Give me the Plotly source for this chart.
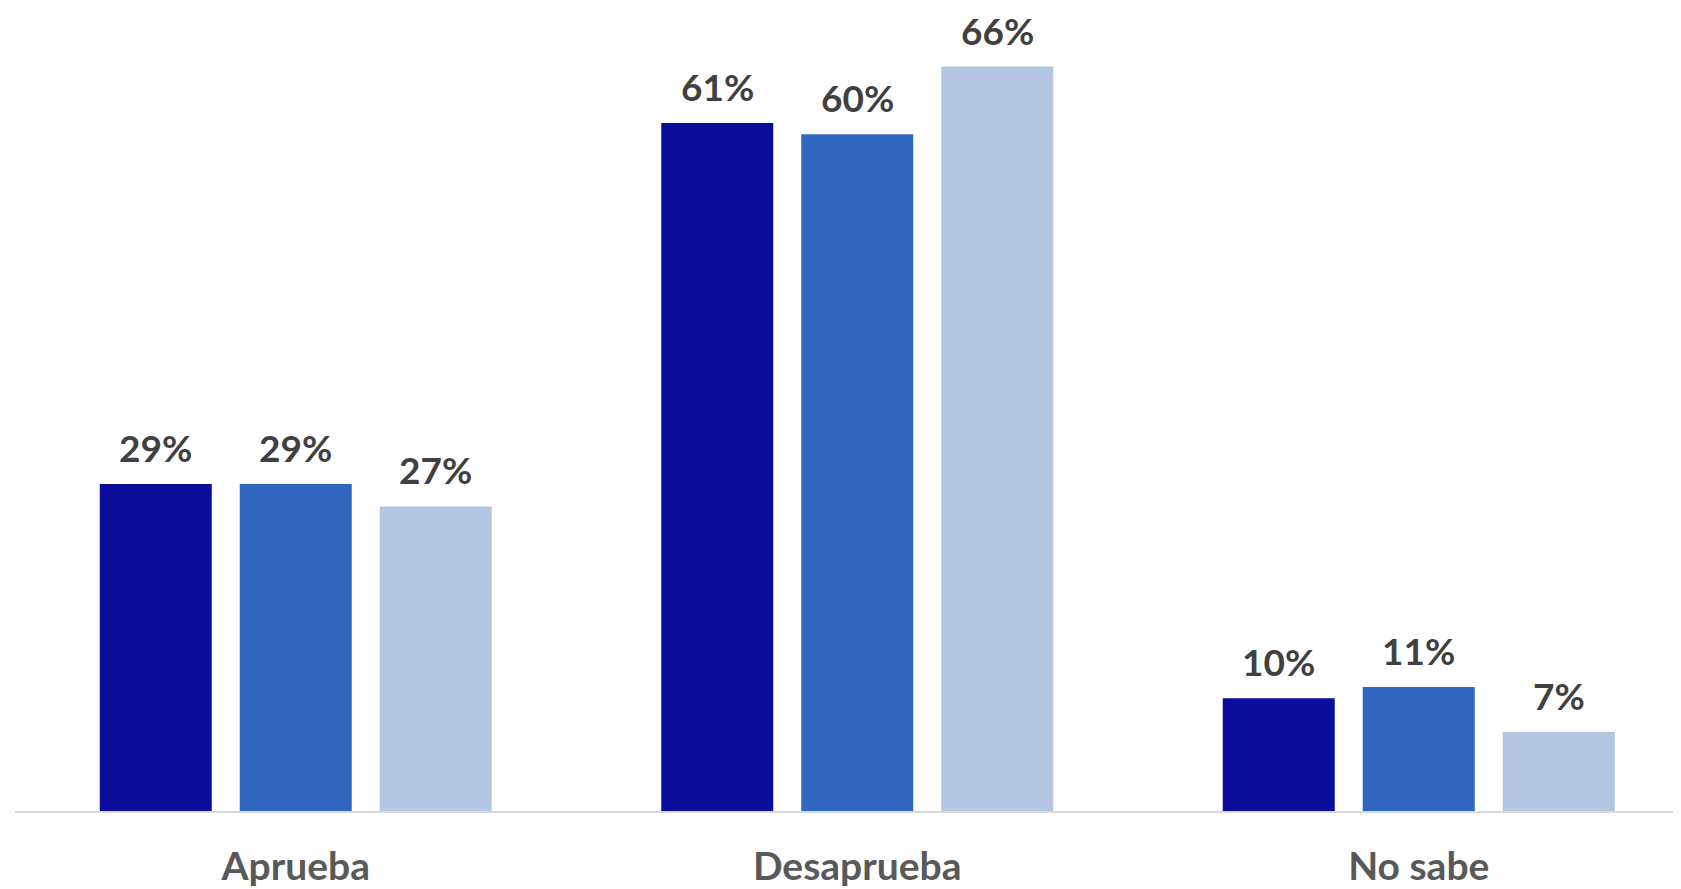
import plotly.graph_objects as go

categories = ["Aprueba", "Desaprueba", "No sabe"]
series_names = ["Serie 1", "Serie 2", "Serie 3"]
series_values = [
    [29, 61, 10],
    [29, 60, 11],
    [27, 66, 7],
]
series_colors = ["#0A0C9B", "#3067C0", "#B4C6E4"]

W, H = 1673, 881
ml, mr, mt, mb = 7, 0, 12, 78
bargap = 0.252
bargroupgap = 0.2

fig = go.Figure()
for name, vals, col in zip(series_names, series_values, series_colors):
    fig.add_trace(go.Bar(
        x=list(range(len(categories))), y=vals, name=name,
        marker=dict(color=col, line=dict(width=0)),
        hoverinfo="skip",
    ))

n = len(series_values)
slot = (1 - bargap) / n
for i, vals in enumerate(series_values):
    off = (i - (n - 1) / 2) * slot
    for j, v in enumerate(vals):
        fig.add_annotation(
            x=j + off, y=v, xref="x", yref="y",
            text=f"{v}%", showarrow=False,
            yanchor="bottom", yshift=12,
            font=dict(family="Lato", size=37, color="#404040", weight="bold"),
        )

fig.update_layout(
    width=W, height=H,
    margin=dict(l=ml, r=mr, t=mt, b=mb),
    paper_bgcolor="white", plot_bgcolor="white",
    barmode="group", bargap=bargap, bargroupgap=bargroupgap,
    showlegend=False,
    xaxis=dict(
        range=[-0.5, -0.5 + (W - ml - mr) / 561.5],
        tickmode="array", tickvals=list(range(len(categories))), ticktext=categories,
        showline=True, linecolor="#D9D9D9", linewidth=2,
        showgrid=False, zeroline=False, ticks="",
        tickfont=dict(family="Lato", size=39, color="#595959", weight="bold"),
        ticklabelstandoff=20,
    ),
    yaxis=dict(
        range=[0, (H - mt - mb) / 11.28],
        visible=False, showgrid=False, zeroline=False,
    ),
)

fig.write_html("out.html")
